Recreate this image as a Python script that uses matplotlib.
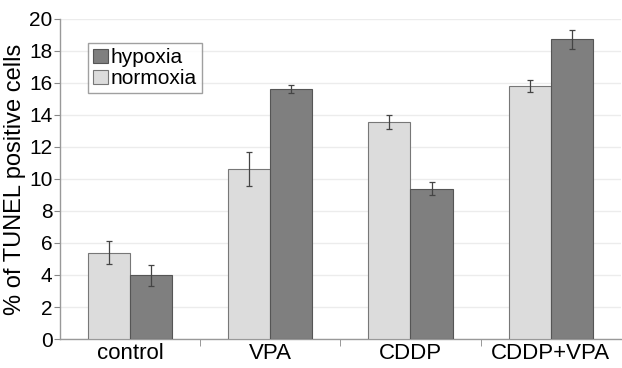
import numpy as np
import matplotlib
matplotlib.use("Agg")
import matplotlib.pyplot as plt

plt.rcParams["font.family"] = ["Liberation Sans", "DejaVu Sans"]

groups = ["control", "VPA", "CDDP", "CDDP+VPA"]
normoxia = [5.38, 10.62, 13.55, 15.8]
normoxia_err = [0.72, 1.07, 0.42, 0.37]
hypoxia = [3.98, 15.63, 9.4, 18.72]
hypoxia_err = [0.65, 0.27, 0.4, 0.58]

light = "#dcdcdc"
dark = "#7f7f7f"

fig = plt.figure(figsize=(6.22, 3.68), dpi=100)
ax = fig.add_axes([0.0965, 0.0788, 0.9015, 0.8696])

x = np.arange(len(groups))
w = 0.3
ekw = dict(ecolor="#444444", elinewidth=0.9, capsize=2.5, capthick=0.9)
b_n = ax.bar(x - w / 2, normoxia, w, yerr=normoxia_err, color=light,
             edgecolor="#777777", linewidth=0.8, error_kw=ekw, zorder=3)
b_h = ax.bar(x + w / 2, hypoxia, w, yerr=hypoxia_err, color=dark,
             edgecolor="#555555", linewidth=0.8, error_kw=ekw, zorder=3)

ax.set_xlim(-0.5, len(groups) - 0.5)
ax.set_ylim(0, 20)
ax.set_yticks(range(0, 21, 2))
ax.yaxis.grid(True, color="#ececec", linewidth=1.0, zorder=0)
ax.set_axisbelow(True)

ax.set_xticks(x)
ax.set_xticklabels(groups, fontsize=16)
ax.tick_params(axis="x", length=0, pad=3)
ax.set_xticks(x[:-1] + 0.5, minor=True)
ax.tick_params(axis="x", which="minor", length=5, color="#888888")
ax.tick_params(axis="y", labelsize=15, length=4, color="#888888", pad=1.5)

for s in ["top", "right"]:
    ax.spines[s].set_visible(False)
for s in ["left", "bottom"]:
    ax.spines[s].set_color("#999999")
    ax.spines[s].set_linewidth(1.0)

ax.set_ylabel("% of TUNEL positive cells", fontsize=17, labelpad=2)

leg = ax.legend([b_h, b_n], ["hypoxia", "normoxia"], loc="upper left",
                bbox_to_anchor=(0.05, 0.925), fontsize=15, frameon=True,
                fancybox=False, handlelength=0.7, handleheight=0.7,
                handletextpad=0.15, borderpad=0.25, labelspacing=0.1,
                borderaxespad=0)
leg.get_frame().set_edgecolor("#888888")
leg.get_frame().set_linewidth(1.0)

fig.savefig("out.png", dpi=100)
